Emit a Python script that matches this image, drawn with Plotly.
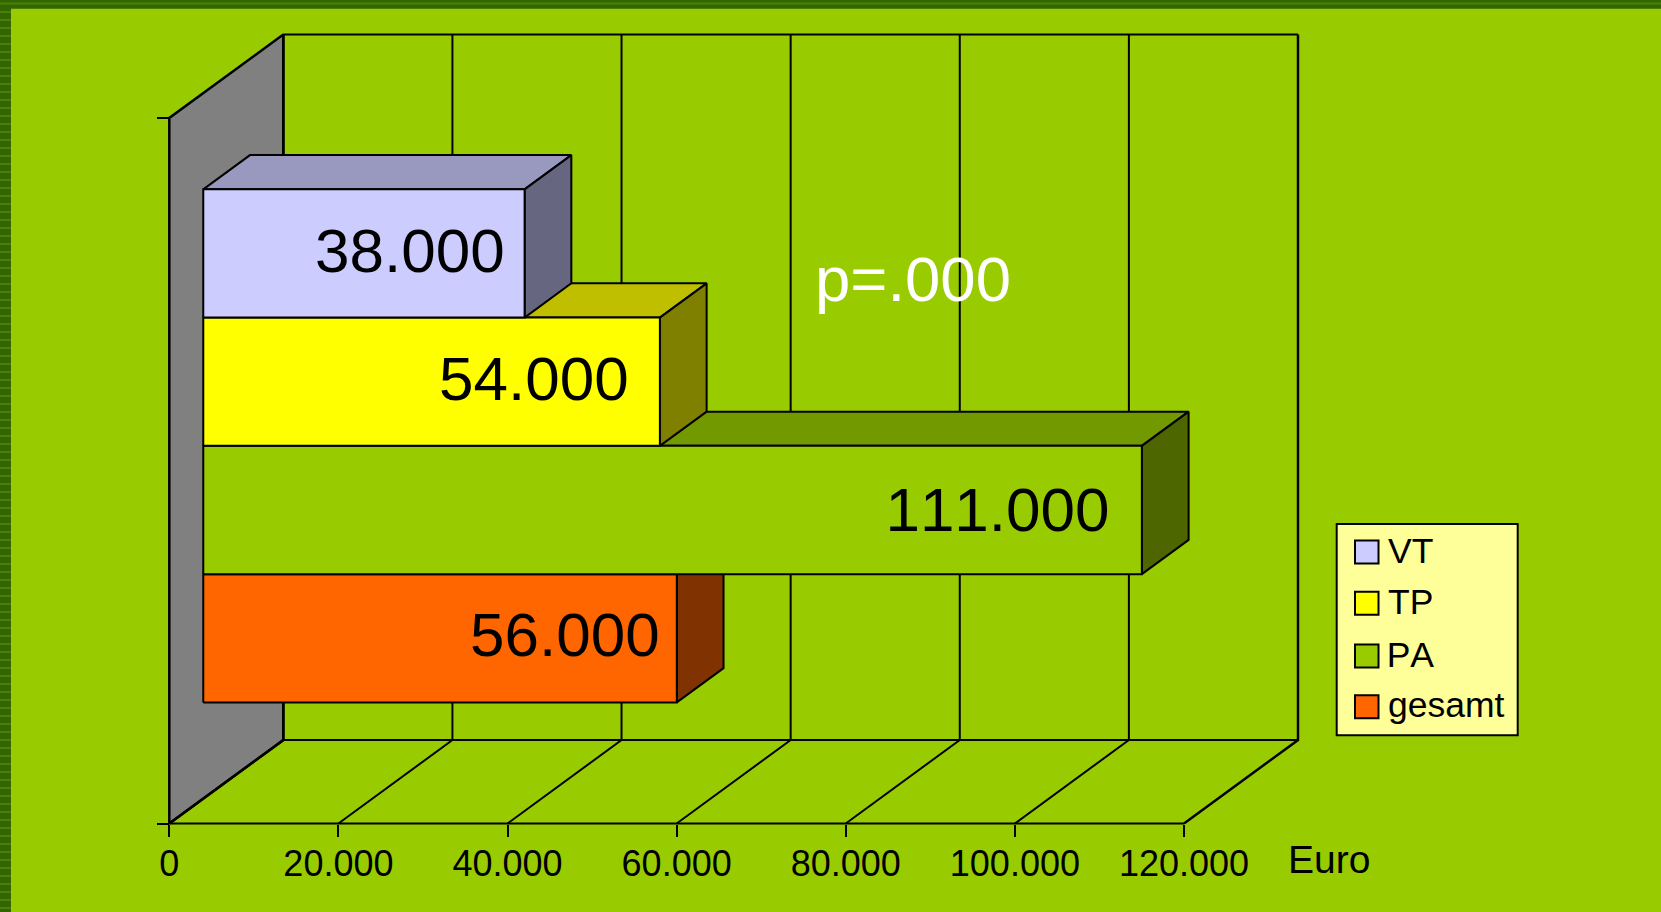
import plotly.graph_objects as go

# Data
categories = ["VT", "TP", "PA", "gesamt"]
values = [38000, 54000, 111000, 56000]
front_colors = ["#CCCCFF", "#FFFF00", "#99CC00", "#FF6600"]
top_colors = ["#9999BF", "#BFBF00", "#739900", "#BF4D00"]
side_colors = ["#666680", "#808000", "#4D6600", "#803300"]
label_insets = [2125, 3425, 4150, 1775]
label_lifts = [0.02, 0.028, 0.004, 0.028]
axis_ticks = [0, 20000, 40000, 60000, 80000, 100000, 120000]
axis_labels = ["0", "20.000", "40.000", "60.000", "80.000", "100.000", "120.000"]

# Page geometry
W, H = 1661, 912
X0, Y0 = 169.3, 823.5          # pixel position of the front origin
PX_PER_EURO = (1184.0 - X0) / 120000
PX_PER_BAND = 705.5 / 5.5
DEPTH_X, DEPTH_Y = 114.0, 83.5  # full depth of the box in pixels
BANDS = 5.5
GAP = 0.75
BAR_DEPTH_FRONT, BAR_DEPTH_BACK = 0.298, 0.708

BG = "#99CC00"
INK = "#000000"
FONT = "Liberation Sans, Arial, sans-serif"


def project(value, band, depth):
    """Oblique projection of (euro value, band height, depth 0..1) onto the axes."""
    return (value + depth * DEPTH_X / PX_PER_EURO,
            band + depth * DEPTH_Y / PX_PER_BAND)


def polygon(points, fill=None, width=2.0):
    xs = [p[0] for p in points]
    ys = [p[1] for p in points]
    trace = dict(x=xs, y=ys, mode="lines", showlegend=False, hoverinfo="skip",
                 line=dict(color=INK, width=width))
    if fill:
        trace.update(fill="toself", fillcolor=fill)
    return go.Scatter(**trace)


def px(x):
    return x / W


def py(y):
    return 1 - y / H


fig = go.Figure()

# Left wall of the box
fig.add_trace(polygon([project(0, 0, 0), project(0, 0, 1), project(0, BANDS, 1),
                       project(0, BANDS, 0), project(0, 0, 0)], fill="#808080", width=2.5))

# Back wall grid and floor lines
for t in axis_ticks:
    fig.add_trace(polygon([project(t, 0, 0), project(t, 0, 1), project(t, BANDS, 1)],
                          width=2.5 if t in (axis_ticks[0], axis_ticks[-1]) else 2.0))
fig.add_trace(polygon([project(axis_ticks[0], 0, 1), project(axis_ticks[-1], 0, 1)]))
fig.add_trace(polygon([project(axis_ticks[0], BANDS, 1), project(axis_ticks[-1], BANDS, 1)]))
fig.add_trace(polygon([project(axis_ticks[0], 0, 0), project(axis_ticks[-1], 0, 0)]))

# Bars, lowest first so that the upper ones overlap the tops beneath them
annotations = []
n = len(categories)
for i in reversed(range(n)):
    v = values[i]
    lo = GAP + (n - 1 - i)
    hi = lo + 1
    d0, d1 = BAR_DEPTH_FRONT, BAR_DEPTH_BACK
    fig.add_trace(polygon([project(0, hi, d0), project(v, hi, d0), project(v, hi, d1),
                           project(0, hi, d1), project(0, hi, d0)], fill=top_colors[i]))
    fig.add_trace(polygon([project(v, lo, d0), project(v, lo, d1), project(v, hi, d1),
                           project(v, hi, d0), project(v, lo, d0)], fill=side_colors[i]))
    fig.add_trace(polygon([project(0, lo, d0), project(v, lo, d0), project(v, hi, d0),
                           project(0, hi, d0), project(0, lo, d0)], fill=front_colors[i]))
    lx, ly = project(v - label_insets[i], (lo + hi) / 2 + label_lifts[i], d0)
    annotations.append(dict(x=lx, y=ly, xref="x", yref="y", text=f"{v:,}".replace(",", "."),
                            showarrow=False, xanchor="right", yanchor="middle",
                            font=dict(family=FONT, size=62, color=INK)))

# Free-standing texts
annotations.append(dict(x=px(913), y=py(279), xref="paper", yref="paper", text="p=.000",
                        showarrow=False, xanchor="center", yanchor="middle",
                        font=dict(family=FONT, size=63.5, color="#FFFFFF")))
annotations.append(dict(x=px(1328.5), y=py(859), xref="paper", yref="paper", text="Euro",
                        showarrow=False, xanchor="center", yanchor="middle",
                        font=dict(family=FONT, size=39, color=INK)))

# Legend panel
shapes = [dict(type="rect", xref="paper", yref="paper", layer="above",
               x0=px(1336.7), x1=px(1517.7), y0=py(524), y1=py(735.3),
               fillcolor="#FFFF99", line=dict(color=INK, width=2))]
legend_rows = [552.0, 603.3, 656.0, 706.7]
for i, name in enumerate(categories):
    cy = legend_rows[i]
    shapes.append(dict(type="rect", xref="paper", yref="paper", layer="above",
                       x0=px(1355), x1=px(1378.5), y0=py(cy - 11.5), y1=py(cy + 11.5),
                       fillcolor=front_colors[i], line=dict(color=INK, width=2)))
    annotations.append(dict(x=px(1386), y=py(cy - 1.3), xref="paper", yref="paper", text=name,
                            showarrow=False, xanchor="left", yanchor="middle",
                            font=dict(family=FONT, size=35.5, color=INK)))

# Striped page border on the left and top edges
shapes.append(dict(type="rect", xref="paper", yref="paper", layer="below", x0=0, x1=px(11),
                   y0=0, y1=1, fillcolor="#336600", line=dict(width=0)))
shapes.append(dict(type="rect", xref="paper", yref="paper", layer="below", x0=0, x1=1,
                   y0=py(8.7), y1=1, fillcolor="#336600", line=dict(width=0)))
stripe_path = "".join(f"M0,{py(y)} L{px(11)},{py(y)} " for y in range(12, H, 8))
stripe_path += f"M0,{py(3.5)} L1,{py(3.5)}"
shapes.append(dict(type="path", xref="paper", yref="paper", layer="below", path=stripe_path,
                   line=dict(color="#4A800A", width=2)))

fig.update_layout(
    width=W, height=H, autosize=False,
    margin=dict(l=0, r=0, t=0, b=0, pad=0),
    paper_bgcolor=BG, plot_bgcolor="rgba(0,0,0,0)",
    showlegend=False, shapes=shapes, annotations=annotations,
    font=dict(family=FONT, color=INK),
    xaxis=dict(
        range=[-X0 / PX_PER_EURO, (W - X0) / PX_PER_EURO],
        domain=[0, 1], anchor="free", position=py(Y0), side="bottom",
        tickmode="array", tickvals=axis_ticks, ticktext=axis_labels,
        ticks="outside", ticklen=12, tickwidth=2, tickcolor=INK, ticklabelstandoff=-4,
        tickfont=dict(family=FONT, size=36, color=INK),
        showgrid=False, zeroline=False, showline=False, fixedrange=True,
    ),
    yaxis=dict(
        range=[-(H - Y0) / PX_PER_BAND, Y0 / PX_PER_BAND],
        domain=[0, 1], anchor="free", position=px(X0), side="left",
        tickmode="array", tickvals=[0, BANDS], ticktext=["", ""],
        ticks="outside", ticklen=12, tickwidth=2, tickcolor=INK,
        showgrid=False, zeroline=False, showline=False, fixedrange=True,
    ),
)

# Digits in this chart are set without pair kerning
no_kerning = """
var s = document.createElement('style');
s.textContent = 'svg text { font-kerning: none !important; }';
document.head.appendChild(s);
"""

fig.write_html("out.html", config=dict(displayModeBar=False), post_script=no_kerning)
